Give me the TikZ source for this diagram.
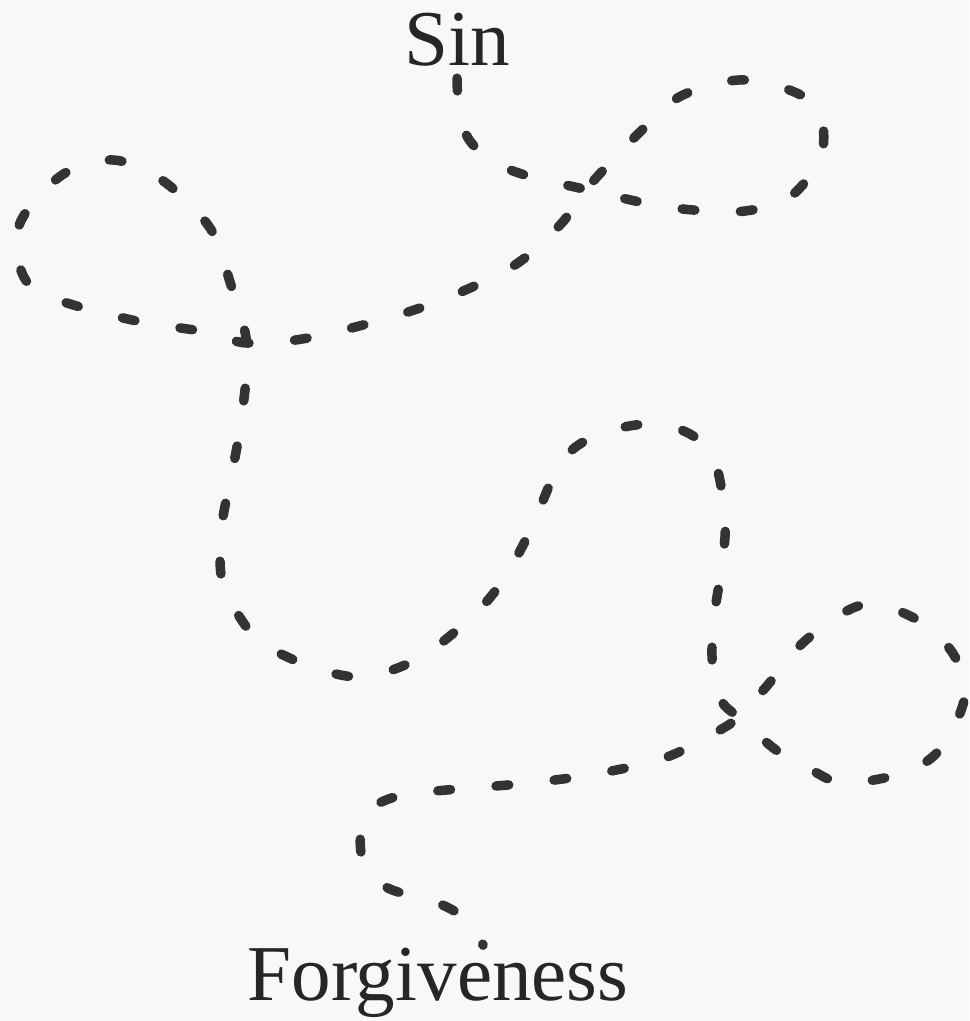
\documentclass[tikz,border=0pt]{standalone}
\usepackage{fontspec}
\setmainfont{Liberation Serif}
\definecolor{trailgray}{HTML}{333333}
\definecolor{paper}{HTML}{F8F8F8}
\begin{document}
\begin{tikzpicture}[x=0.01cm,y=-0.01cm,
  trail/.style={line width=2.7pt,trailgray,dash pattern=on 3.6pt off 13pt,line cap=round},
  word/.style={font=\fontsize{22.5}{27}\selectfont,text=black!85,inner sep=3.33pt}]
\fill[paper] (0,0) rectangle (969,1021);
\useasboundingbox (0,0) rectangle (969,1021);
\node[word,anchor=base] (sin) at (457,65) {Sin};
\node[word,anchor=base] (forgiveness) at (438,1000) {Forgiveness};
\draw[trail] plot[smooth,tension=0.55] coordinates {(sin.south) (459,110) (468,138) (490,160)
  (525,175) (588,190) (645,203) (693,210) (745,211) (790,197) (822,153) (813,103)
  (747,80) (683,95) (642,130) (588,187) (560,225) (510,268) (420,308) (313,337)
  (247,343) (213,333) (132,320) (50,297) (22,273) (20,223) (62,175) (113,160)
  (162,180) (210,228) (230,282) (247,345) (242,415) (233,468) (222,525) (222,580)
  (245,625) (270,648) (315,668) (360,677) (405,665) (445,640) (488,600) (515,560)
  (535,520) (552,480) (572,450) (605,432) (650,424) (690,434) (715,462) (725,520)
  (722,565) (713,625) (713,675) (722,702) (738,717) (776,750) (808,768) (844,783)
  (906,772) (942,747) (965,695) (952,652) (914,618) (862,605) (806,640) (766,687)
  (738,717) (720,730) (667,757) (601,773) (529,783) (426,792) (386,800) (364,817)
  (362,857) (386,887) (438,903) (472,923) ([xshift=0.45cm,yshift=-0.1cm]forgiveness.north)};
\end{tikzpicture}
\end{document}
